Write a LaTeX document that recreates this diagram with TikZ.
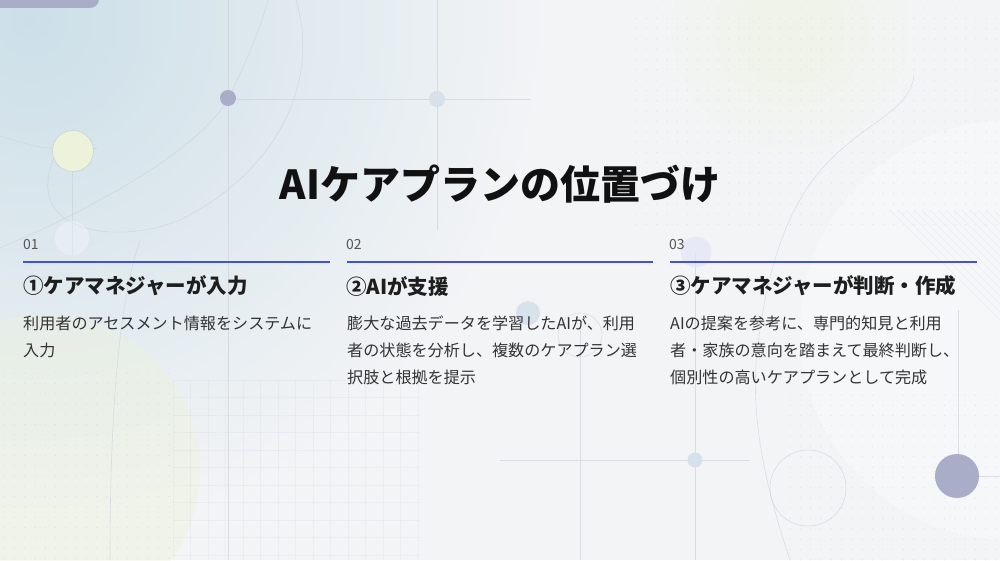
\documentclass[tikz,border=0pt]{standalone}
\usepackage{fontspec}
\setmainfont{Noto Sans CJK JP}
\usetikzlibrary{calc,fadings}
\definecolor{bgA}{HTML}{CCDFE8}
\definecolor{bgB}{HTML}{F4F5F7}
\definecolor{bgC}{HTML}{F3F4F6}
\definecolor{bgD}{HTML}{EEF1F3}
\definecolor{deco}{HTML}{A9ADC8}
\definecolor{decoL}{HTML}{D6E1EB}
\definecolor{lineC}{HTML}{C9CFD6}
\definecolor{blueL}{HTML}{4450D8}
\definecolor{greenL}{HTML}{EDF3DA}
\definecolor{txtT}{HTML}{111111}
\definecolor{txtH}{HTML}{1E1E1E}
\definecolor{txtB}{HTML}{333333}
\definecolor{txtN}{HTML}{555555}
\tikzset{
  faint/.style={draw=lineC, line width=0.6pt, opacity=0.6},
  dotc/.style={fill=lineC, opacity=0.4},
  numlbl/.style={anchor=west, text=txtN, font=\fontsize{14}{16}\selectfont, inner sep=0pt},
  headlbl/.style={anchor=west, text=txtH, font=\fontsize{20.5}{24}\selectfont\bfseries, inner sep=0pt},
  bodylbl/.style={anchor=north west, text=txtB, align=left, font=\fontsize{16.1}{27}\selectfont, inner sep=0pt},
  rulel/.style={draw=blueL, line width=1.6pt}
}
\begin{document}
\begin{tikzpicture}[x=1pt,y=-1pt]
\useasboundingbox (0,0) rectangle (1000,560);
% background
\fill[bgC] (0,0) rectangle (1000,560);
\begin{scope}
\clip (0,0) rectangle (1000,560);
\shade[inner color=bgA, outer color=bgC] (30,20) circle (520);
\shade[inner color=greenL, outer color=bgC, opacity=0.6] (790,30) circle (130);
\end{scope}
\fill[white, opacity=0.3] (1010,330) circle (210);
\fill[greenL, opacity=0.4] (45,470) circle (155);
% dot grids
\foreach \i in {0,...,36}{\foreach \j in {0,...,21}{\fill[dotc] (636+\i*10.3,8+\j*10.3) circle (0.7);}}
\foreach \i in {0,...,16}{\foreach \j in {0,...,18}{\fill[dotc] (4+\i*10.3,373+\j*10.3) circle (0.7);}}
\foreach \i in {0,...,20}{\foreach \j in {0,...,16}{\fill[dotc] (790+\i*10.3,395+\j*10.3) circle (0.7);}}
% faint grid lower middle
\foreach \i in {0,...,14}{\draw[faint, opacity=0.18] (173+\i*17.5,380) -- (173+\i*17.5,560);}
\foreach \j in {0,...,10}{\draw[faint, opacity=0.18] (173,380+\j*17.5) -- (420,380+\j*17.5);}
% diagonal hatch lower right
\foreach \k in {0,...,14}{\draw[faint, opacity=0.25] (890+\k*8,210) -- (1000,210+110-\k*8);}
% straight lines
\draw[faint] (228,0) -- (228,560);
\draw[faint] (437,0) -- (437,230);
\draw[faint] (228,99) -- (530,99);
\draw[faint] (580,330) -- (580,560);
\draw[faint] (695,252) -- (695,560);
\draw[faint] (500,460) -- (750,460);
\draw[faint] (72,172) -- (72,255);
\draw[faint] (958,310) -- (958,455);
\draw[faint] (958,476) -- (1000,476);
% curves
\draw[faint] (0,248) .. controls (90,210) and (200,150) .. (228,99) .. controls (245,65) and (260,30) .. (268,0);
\draw[faint] (296,0) .. controls (320,80) and (280,170) .. (180,220) .. controls (120,245) and (20,235) .. (55,155);
\draw[faint] (0,136) .. controls (20,142) and (35,148) .. (55,148);
\draw[faint] (90,148) -- (97,148);
\draw[faint] (914,75) .. controls (910,110) and (870,120) .. (830,160) .. controls (790,200) and (770,260) .. (760,330) .. controls (748,400) and (760,470) .. (790,560);
\draw[faint] (110,560) .. controls (110,400) and (120,300) .. (140,240);
\draw[faint] (808,488) circle (38);
\draw[faint] (580,335) circle (22);
% decorative shapes
\fill[deco] (0,-10) rectangle (90,8);
\fill[deco] (90,-1) circle (9);
\fill[deco] (228,98) circle (8);
\fill[decoL] (437,99) circle (8);
\filldraw[fill=greenL, draw=lineC, line width=0.5pt] (73,151) circle (20.5);
\fill[white, opacity=0.3] (72,238) circle (17);
\fill[deco] (957,476) circle (22);
\fill[decoL] (695,460) circle (7.5);
\fill[decoL, opacity=0.9] (528,313) circle (12);
\fill[decoL!85!blue!40, opacity=0.7] (696,252) circle (15.5);
% title
\node[text=txtT, font=\fontsize{40}{45}\selectfont\bfseries, inner sep=0pt] (title) at (500,184) {AIケアプランの位置づけ};
% column 1
\node[numlbl] (n1) at (23,245) {01};
\coordinate (l1a) at (23,262); \coordinate (l1b) at (330,262);
\draw[rulel] (l1a) -- (l1b);
\node[headlbl] (h1) at (23,286) {①ケアマネジャーが入力};
\node[bodylbl] (b1) at (23,316) {利用者のアセスメント情報をシステムに\\入力};
% column 2
\node[numlbl] (n2) at (346,245) {02};
\coordinate (l2a) at (347,262); \coordinate (l2b) at (653,262);
\draw[rulel] (l2a) -- (l2b);
\node[headlbl] (h2) at (346,286) {②AIが支援};
\node[bodylbl] (b2) at (347,316) {膨大な過去データを学習したAIが、利用\\者の状態を分析し、複数のケアプラン選\\択肢と根拠を提示};
% column 3
\node[numlbl] (n3) at (669,245) {03};
\coordinate (l3a) at (670,262); \coordinate (l3b) at (977,262);
\draw[rulel] (l3a) -- (l3b);
\node[headlbl] (h3) at (670,286) {③ケアマネジャーが判断・作成};
\node[bodylbl] (b3) at (670,316) {AIの提案を参考に、専門的知見と利用\\者・家族の意向を踏まえて最終判断し、\\個別性の高いケアプランとして完成};
\end{tikzpicture}
\end{document}
